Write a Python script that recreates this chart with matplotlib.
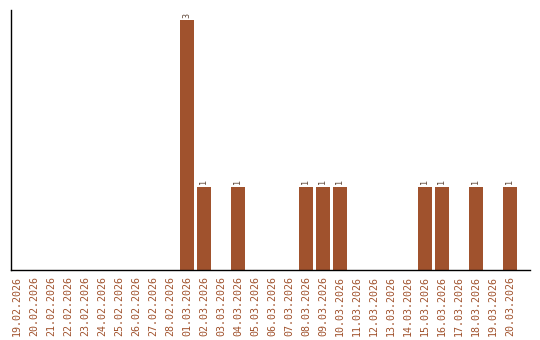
import matplotlib
matplotlib.use("Agg")
import matplotlib.pyplot as plt
import numpy as np

dates = ["19.02.2026", "20.02.2026", "21.02.2026", "22.02.2026", "23.02.2026",
         "24.02.2026", "25.02.2026", "26.02.2026", "27.02.2026", "28.02.2026",
         "01.03.2026", "02.03.2026", "03.03.2026", "04.03.2026", "05.03.2026",
         "06.03.2026", "07.03.2026", "08.03.2026", "09.03.2026", "10.03.2026",
         "11.03.2026", "12.03.2026", "13.03.2026", "14.03.2026", "15.03.2026",
         "16.03.2026", "17.03.2026", "18.03.2026", "19.03.2026", "20.03.2026"]
values = [0, 0, 0, 0, 0, 0, 0, 0, 0, 0,
          3, 1, 0, 1, 0, 0, 0, 1, 1, 1,
          0, 0, 0, 0, 1, 1, 0, 1, 0, 1]

color = "#A0522D"

fig = plt.figure(figsize=(5.4, 3.4), dpi=100)
ax = fig.add_axes([11/540, 70/340, 519/540, 260/340])

x = np.arange(len(dates))
ax.bar(x, values, width=0.8, color=color)
for xi, v in zip(x, values):
    if v > 0:
        ax.text(xi, v + 0.03, str(v), rotation=90, ha="center", va="bottom",
                fontsize=6, color="#5e4536", family="DejaVu Sans Mono")

ax.set_xlim(-0.35, len(dates) - 1 + 1.18)
ax.set_ylim(0, 3.12)
ax.set_xticks(x)
ax.set_xticklabels(dates, rotation=90, fontsize=7.2, color=color,
                   family="DejaVu Sans Mono")
ax.tick_params(axis="x", length=0, pad=4)
ax.set_yticks([])
for s in ["top", "right"]:
    ax.spines[s].set_visible(False)
ax.spines["left"].set_linewidth(1)
ax.spines["bottom"].set_linewidth(1)

fig.savefig("out.png", dpi=100)
